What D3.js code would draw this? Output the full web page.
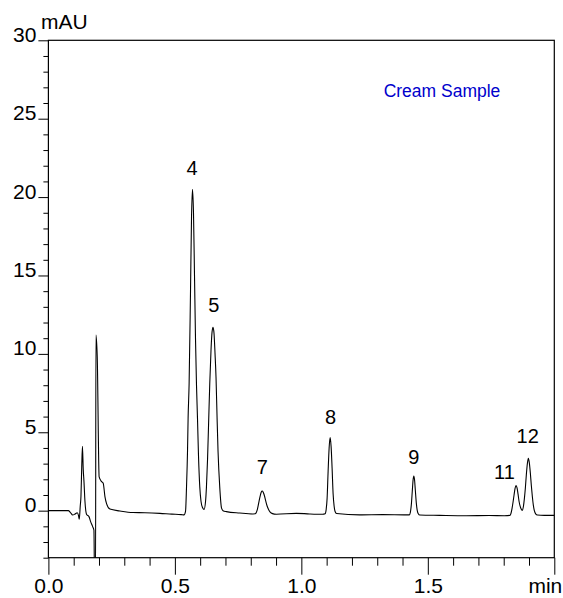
<!DOCTYPE html>
<html>
<head>
<meta charset="utf-8">
<script src="https://cdn.jsdelivr.net/npm/d3@7"></script>
<style>
  html, body { margin: 0; padding: 0; background: #fff; }
  svg { display: block; }
  text { font-family: "Liberation Sans", Arial, Helvetica, sans-serif; fill: #000; }
</style>
</head>
<body>
<svg id="chart" width="563" height="598"></svg>
<script>
// ---------------- data ----------------
const traceTime = [
  0.0000, 0.0786, 0.0872, 0.0959, 0.1050, 0.1141, 0.1188, 0.1220, 0.1259, 0.1287,
  0.1318, 0.1346, 0.1378, 0.1405, 0.1445, 0.1512, 0.1603, 0.1670, 0.1749, 0.1800,
  0.1828, 0.1863, 0.1879, 0.1931, 0.2006, 0.2104, 0.2167, 0.2235, 0.2302, 0.2432,
  0.2827, 0.3340, 0.3814, 0.4406, 0.4880, 0.5250,
  0.5361, 0.5421, 0.5460, 0.5500, 0.5523, 0.5563, 0.5618, 0.5658, 0.5697, 0.5736,
  0.5776, 0.5815, 0.5855, 0.5894, 0.5934, 0.5985, 0.6033, 0.6092,
  0.6154, 0.6213, 0.6248, 0.6292, 0.6339, 0.6379, 0.6430, 0.6470, 0.6509, 0.6548,
  0.6588, 0.6627, 0.6667, 0.6706, 0.6774, 0.6841, 0.6904, 0.7038,
  0.7564, 0.8089,
  0.8177, 0.8256, 0.8315, 0.8374, 0.8414, 0.8453, 0.8492, 0.8532, 0.8591, 0.8650,
  0.8729, 0.8808, 0.8927,
  0.9013, 0.9803, 1.0328, 1.0841,
  1.0940, 1.0979, 1.1019, 1.1058, 1.1098, 1.1137, 1.1176, 1.1216, 1.1255, 1.1295,
  1.1334, 1.1393,
  1.2307, 1.3222, 1.4145,
  1.4267, 1.4307, 1.4346, 1.4386, 1.4417, 1.4445, 1.4473, 1.4504, 1.4544, 1.4583,
  1.4623, 1.4682,
  1.5460, 1.6514, 1.7434, 1.8026,
  1.8251, 1.8291, 1.8330, 1.8370, 1.8409, 1.8449, 1.8488, 1.8527, 1.8567, 1.8606,
  1.8646, 1.8685, 1.8737,
  1.8777, 1.8816, 1.8856, 1.8895, 1.8935, 1.8974, 1.9013, 1.9053, 1.9092, 1.9132,
  1.9171, 1.9211, 1.9270, 1.9329, 1.9600, 2.0000
];
const traceMAU = [
  0.00, 0.00, -0.12, -0.28, -0.22, -0.13, -0.30, -0.55, 0.30, 0.90,
  2.80, 4.10, 2.60, 1.90, 0.60, -0.25, -0.38, -0.70, -1.02, -1.25,
  -5.00, -5.00, 11.20, 9.80, 2.15, 1.85, 1.75, 0.90, 0.43, 0.10,
  -0.02, -0.12, -0.13, -0.17, -0.22, -0.25,
  -0.27, -0.05, 1.50, 3.80, 5.90, 8.10, 14.00, 18.70, 20.50, 19.00,
  15.00, 11.00, 8.00, 5.90, 3.50, 1.50, 0.60, 0.20,
  0.08, 0.60, 1.50, 3.30, 5.90, 8.10, 10.30, 11.40, 11.70, 11.30,
  10.00, 8.50, 6.00, 3.80, 1.50, 0.20, 0.00, -0.06,
  -0.15, -0.21,
  -0.20, 0.05, 0.50, 0.95, 1.18, 1.25, 1.18, 1.00, 0.62, 0.28,
  0.00, -0.15, -0.22,
  -0.23, -0.17, -0.21, -0.23,
  -0.20, 0.05, 0.80, 2.50, 4.00, 4.66, 4.10, 2.70, 1.10, 0.30,
  -0.05, -0.18,
  -0.27, -0.25, -0.27,
  -0.27, -0.12, 0.35, 1.25, 1.95, 2.21, 2.00, 1.35, 0.50, 0.00,
  -0.20, -0.28,
  -0.30, -0.32, -0.31, -0.32,
  -0.30, -0.15, 0.15, 0.55, 1.00, 1.42, 1.60, 1.45, 1.05, 0.60,
  0.30, 0.12, 0.02,
  0.25, 0.75, 1.45, 2.30, 3.00, 3.34, 3.05, 2.40, 1.60, 0.90,
  0.35, 0.00, -0.22, -0.28, -0.30, -0.30
];

// peak labels: name, retention time of label centre, label baseline in mAU
const peakNames = ["4", "5", "7", "8", "9", "11", "12"];
const peakLabelTime = [0.568, 0.654, 0.846, 1.115, 1.445, 1.803, 1.895];
const peakLabelMAU  = [21.4, 12.7, 2.35, 5.5, 3.0, 2.0, 4.3];

const yMajorTicks = [0, 5, 10, 15, 20, 25, 30];
const yMinorTicks = d3.range(-3, 30, 1).filter(v => v % 5 !== 0);
const xMajorTicks = [0.0, 0.5, 1.0, 1.5, 2.0];
const xMajorLabels = ["0.0", "0.5", "1.0", "1.5", "min"];
const xMinorTicks = d3.range(1, 20).map(i => i / 10).filter(v => Math.abs(v * 2 - Math.round(v * 2)) > 1e-6);

const yUnit = "mAU";
const sampleTitle = "Cream Sample";

// ---------------- layout ----------------
const svg = d3.select("#chart");
const pLeft = 48.4, pRight = 554.3, pTop = 40.3, pBottom = 557.7;
const tickFont = "21px";

const x = d3.scaleLinear().domain([0, 2.0]).range([pLeft, pRight]);
const y = d3.scaleLinear().domain([-3, 30]).range([pBottom, pTop]);

// clip
svg.append("defs").append("clipPath").attr("id", "plotclip")
  .append("rect").attr("x", pLeft).attr("y", pTop).attr("width", pRight - pLeft).attr("height", pBottom - pTop);

// frame
svg.append("rect")
  .attr("x", pLeft).attr("y", pTop).attr("width", pRight - pLeft).attr("height", pBottom - pTop)
  .attr("fill", "none").attr("stroke", "#000").attr("stroke-width", 1.2);

// y axis major
const yAxis = d3.axisLeft(y).tickValues(yMajorTicks).tickSize(10).tickSizeOuter(0).tickFormat(d3.format("d"));
const gy = svg.append("g").attr("transform", `translate(${pLeft},0)`).call(yAxis);
gy.select(".domain").remove();
gy.selectAll(".tick line").attr("stroke", "#000").attr("stroke-width", 1);
gy.selectAll(".tick text")
  .attr("x", -12).attr("dy", "0.05em")
  .style("font-size", tickFont).style("font-family", "'Liberation Sans', Arial, sans-serif");

// y axis minor
const yAxisMinor = d3.axisLeft(y).tickValues(yMinorTicks).tickSize(5).tickFormat("");
const gym = svg.append("g").attr("transform", `translate(${pLeft},0)`).call(yAxisMinor);
gym.select(".domain").remove();
gym.selectAll(".tick line").attr("stroke", "#000").attr("stroke-width", 1);

// x axis major
const xAxis = d3.axisBottom(x).tickValues(xMajorTicks).tickSize(17).tickSizeOuter(0)
  .tickFormat((d, i) => xMajorLabels[i]);
const gx = svg.append("g").attr("transform", `translate(0,${pBottom})`).call(xAxis);
gx.select(".domain").remove();
gx.selectAll(".tick line").attr("stroke", "#000").attr("stroke-width", 1);
gx.selectAll(".tick text")
  .attr("y", 35.5).attr("dy", "0")
  .style("font-size", tickFont).style("font-family", "'Liberation Sans', Arial, sans-serif");
gx.selectAll(".tick text").filter((d, i) => i === xMajorTicks.length - 1)
  .attr("text-anchor", "end").attr("x", 7.5);

// x axis minor
const xAxisMinor = d3.axisBottom(x).tickValues(xMinorTicks).tickSize(8).tickFormat("");
const gxm = svg.append("g").attr("transform", `translate(0,${pBottom})`).call(xAxisMinor);
gxm.select(".domain").remove();
gxm.selectAll(".tick line").attr("stroke", "#000").attr("stroke-width", 1);

// unit label
svg.append("text").attr("x", 41).attr("y", 29)
  .style("font-size", "21px").text(yUnit);

// trace
const traceData = traceTime.map((t, i) => [t, traceMAU[i]]);
const line = d3.line().x(d => x(d[0])).y(d => y(d[1])).curve(d3.curveMonotoneX);
svg.append("path")
  .attr("clip-path", "url(#plotclip)")
  .attr("d", line(traceData))
  .attr("fill", "none").attr("stroke", "#000").attr("stroke-width", 1.1)
  .attr("stroke-linejoin", "round");

// peak labels
svg.append("g").selectAll("text").data(peakNames).join("text")
  .attr("x", (d, i) => x(peakLabelTime[i]))
  .attr("y", (d, i) => y(peakLabelMAU[i]))
  .attr("text-anchor", "middle")
  .style("font-size", "20px")
  .text(d => d);

// title
svg.append("text").attr("x", 442).attr("y", 97).attr("text-anchor", "middle")
  .style("font-size", "17.5px").style("fill", "#0000cc").text(sampleTitle);
</script>
</body>
</html>
